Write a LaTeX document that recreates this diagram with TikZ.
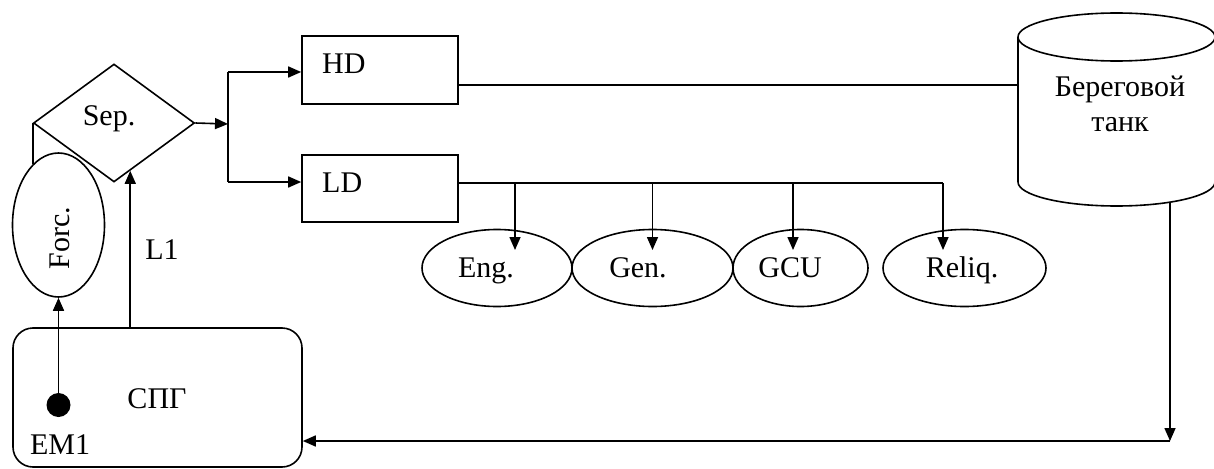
\documentclass[tikz,border=0pt]{standalone}
\usepackage{fontspec}
\setmainfont{Liberation Serif}
\usetikzlibrary{shapes.geometric,arrows.meta,calc}
\begin{document}
\begin{tikzpicture}[x=1pt,y=-1pt,
  lw/.style={line width=1.6pt},
  arr/.style={lw,-{Triangle[length=13pt,width=11pt]}},
  txt/.style={font=\fontsize{30}{35}\selectfont, inner sep=0pt},
  boxnode/.style={draw,lw,inner sep=0pt},
  oval/.style={draw,lw,ellipse,inner sep=0pt},
]
\useasboundingbox (0,0) rectangle (1214,468);

% separator and forcing vaporiser
\node[boxnode, diamond, minimum width=161pt, minimum height=118pt] (sep) at (114,123) {};
\node[txt, anchor=base] (septxt) at (109,125) {Sep.};
\node[oval, minimum width=92pt, minimum height=144pt] (forc) at (58.5,225) {};
\node[txt, rotate=90, anchor=base] (forctxt) at (69,238) {Forc.};

% LNG box
\node[boxnode, rounded corners=20pt, minimum width=289pt, minimum height=139pt] (spg) at (157.5,397.5) {};
\node[txt, anchor=base] (spgtxt) at (157,408) {СПГ};
\node[circle, fill=black, minimum size=24pt, inner sep=0pt] (em) at (58.5,405) {};
\node[txt, anchor=base] (emtxt) at (60,454) {EM1};
\node[txt, anchor=base] (l1) at (162,259) {L1};

% HD / LD
\node[boxnode, minimum width=156pt, minimum height=68pt] (hd) at (380,70) {};
\node[txt, anchor=base west] (hdtxt) at (322,74) {HD};
\node[boxnode, minimum width=156pt, minimum height=67pt] (ld) at (380,188.5) {};
\node[txt, anchor=base west] (ldtxt) at (322,192) {LD};

% consumers
\node[oval, minimum width=150pt, minimum height=77pt] (eng) at (497,268) {};
\node[txt, anchor=base] (engtxt) at (486,277) {Eng.};
\node[oval, minimum width=161pt, minimum height=77pt] (gen) at (652.5,268) {};
\node[txt, anchor=base] (gentxt) at (638,277) {Gen.};
\node[oval, minimum width=135pt, minimum height=77pt] (gcu) at (800.5,268) {};
\node[txt, anchor=base] (gcutxt) at (790,277) {GCU};
\node[oval, minimum width=163pt, minimum height=77pt] (rel) at (964.5,268) {};
\node[txt, anchor=base] (reltxt) at (962,277) {Reliq.};

% shore tank
\node[minimum width=197pt, minimum height=193pt, inner sep=0pt] (tank) at (1116.5,109.5) {};
\draw[lw] (1116.5,37) ellipse [x radius=98.5pt, y radius=24pt];
\draw[lw] (1018,37) -- (1018,182) arc[start angle=180, end angle=360, x radius=98.5pt, y radius=24pt] -- (1215,37);
\node[txt, align=center] (tanktxt) at (1120,103.5) {Береговой\\танк};

% connectors
\coordinate (j) at (228,124);
\coordinate (jt) at (228,72);
\coordinate (jb) at (228,182);
\draw[arr] (sep.east) -- (j);
\draw[lw] (jt) -- (jb);
\draw[arr] (jt) -- (hd.west |- jt);
\draw[arr] (jb) -- (ld.west |- jb);

\coordinate (hy) at (0,85);
\draw[lw] (hd.east |- hy) -- (tank.west |- hy);

\coordinate (br) at (0,183);
\coordinate (e1) at ($(eng.center)+(18,-18)$);
\coordinate (e2) at ($(gen.center)+(0,-18)$);
\coordinate (e3) at ($(gcu.center)+(-7.5,-18)$);
\coordinate (e4) at ($(rel.center)+(-21.5,-18)$);
\draw[lw] (ld.east |- br) -- (e4 |- br);
\draw[arr] (e1 |- br) -- (e1);
\draw[arr] (e2 |- br) -- (e2);
\draw[arr] (e3 |- br) -- (e3);
\draw[arr] (e4 |- br) -- (e4);

\coordinate (tb) at (1170,203);
\coordinate (c) at (1170,441);
\draw[arr] (tb) -- (c);
\draw[arr] (c) -- (spg.east |- c);

\coordinate (sepin) at ($(sep.south)!0.2!(sep.east)$);
\draw[arr] (spg.north -| sepin) -- (sepin);
\draw[arr] (em.north) -- (forc.south);
\draw[lw] (sep.west) -- (sep.west |- forc.113);
\end{tikzpicture}
\end{document}
